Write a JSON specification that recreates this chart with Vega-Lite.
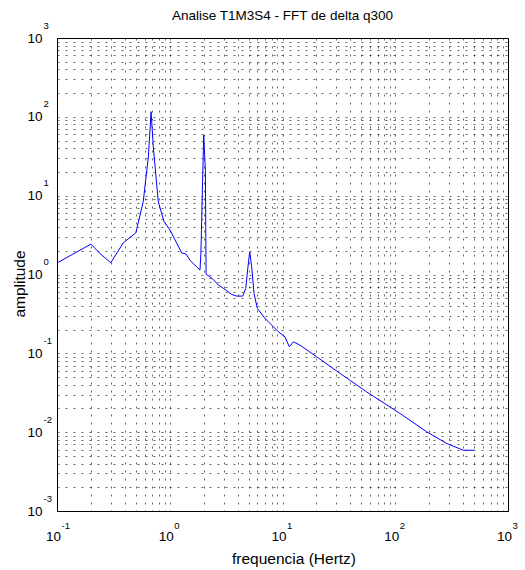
{
  "$schema": "https://vega.github.io/schema/vega-lite/v6.json",
  "width": 451,
  "height": 473,
  "autosize": {"type": "none"},
  "padding": {"left": 57, "top": 38, "right": 17, "bottom": 59},
  "background": "#ffffff",
  "title": {"text": "Analise T1M3S4 - FFT de delta q300", "font": "Liberation Sans", "fontSize": 13.5, "fontWeight": "normal", "color": "#000000", "anchor": "middle", "frame": "group", "offset": -2},
  "config": {
    "view": {"stroke": "#000000", "strokeWidth": 1},
    "axis": {"labelFont": "Liberation Sans", "titleFont": "Liberation Sans", "labelColor": "#000000", "titleColor": "#000000", "domainColor": "#000000", "tickColor": "#000000", "titleFontWeight": "normal"}
  },
  "data": {"values": [
    {"f": 0.1, "a": 1.40}, {"f": 0.2, "a": 2.43}, {"f": 0.24, "a": 1.85}, {"f": 0.30, "a": 1.41},
    {"f": 0.387, "a": 2.52}, {"f": 0.50, "a": 3.38}, {"f": 0.582, "a": 8.4}, {"f": 0.646, "a": 31},
    {"f": 0.683, "a": 116}, {"f": 0.714, "a": 42}, {"f": 0.791, "a": 8.4}, {"f": 0.889, "a": 4.7},
    {"f": 1.005, "a": 3.66}, {"f": 1.276, "a": 1.88}, {"f": 1.393, "a": 1.82}, {"f": 1.51, "a": 1.52},
    {"f": 1.73, "a": 1.25}, {"f": 1.855, "a": 1.14}, {"f": 1.89, "a": 1.87}, {"f": 2.0, "a": 58.7},
    {"f": 2.07, "a": 21}, {"f": 2.10, "a": 1.01}, {"f": 2.43, "a": 0.867}, {"f": 2.70, "a": 0.733},
    {"f": 2.99, "a": 0.667}, {"f": 3.54, "a": 0.559}, {"f": 3.92, "a": 0.532}, {"f": 4.44, "a": 0.532},
    {"f": 4.72, "a": 0.667}, {"f": 4.94, "a": 1.25}, {"f": 5.12, "a": 1.94}, {"f": 5.33, "a": 1.25},
    {"f": 5.59, "a": 0.575}, {"f": 5.98, "a": 0.372}, {"f": 7.0, "a": 0.277}, {"f": 9.18, "a": 0.188},
    {"f": 10.5, "a": 0.162}, {"f": 11.5, "a": 0.121}, {"f": 12.5, "a": 0.140}, {"f": 14.3, "a": 0.127},
    {"f": 20.1, "a": 0.0903}, {"f": 32.4, "a": 0.0556}, {"f": 55.8, "a": 0.0324}, {"f": 110, "a": 0.0173},
    {"f": 190, "a": 0.0101}, {"f": 286, "a": 0.0072}, {"f": 401, "a": 0.0059}, {"f": 500, "a": 0.0059}
  ]},
  "resolve": {"axis": {"x": "independent", "y": "independent"}},
  "layer": [
    {
      "mark": {"type": "line", "color": "#0000ff", "strokeWidth": 1, "clip": true},
      "encoding": {
        "x": {"field": "f", "type": "quantitative", "scale": {"type": "log", "domain": [0.1, 1000], "nice": false},
          "axis": {"orient": "bottom",
            "values": [0.1,0.2,0.3,0.4,0.5,0.6,0.7,0.8,0.9,1,2,3,4,5,6,7,8,9,10,20,30,40,50,60,70,80,90,100,200,300,400,500,600,700,800,900,1000],
            "grid": true, "gridColor": "#000000", "gridDash": [2, 6], "gridWidth": 0.8, "gridOpacity": 0.75,
            "tickSize": 0, "tickWidth": 1,
            "encode": {"ticks": {"update": {"y2": {"signal": "abs(log(datum.value)/LN10-round(log(datum.value)/LN10))<1e-6 ? -6 : -3"}}}},
            "labelExpr": "abs(log(datum.value)/LN10-round(log(datum.value)/LN10))<1e-6 ? '10' : ''",
            "labelFontSize": 13.5, "labelPadding": 29, "labelBaseline": "alphabetic", "labelAlign": "center", "labelOffset": -4,
            "labelFlush": false, "labelOverlap": false,
            "title": "frequencia (Hertz)", "titleFontSize": 15.5, "titleX": 236.5, "titleY": 52, "titleBaseline": "alphabetic", "titleAlign": "center"}},
        "y": {"field": "a", "type": "quantitative", "scale": {"type": "log", "domain": [0.001, 1000], "nice": false},
          "axis": {"orient": "left",
            "values": [0.001,0.002,0.003,0.004,0.005,0.006,0.007,0.008,0.009,0.01,0.02,0.03,0.04,0.05,0.06,0.07,0.08,0.09,0.1,0.2,0.3,0.4,0.5,0.6,0.7,0.8,0.9,1,2,3,4,5,6,7,8,9,10,20,30,40,50,60,70,80,90,100,200,300,400,500,600,700,800,900,1000],
            "grid": true, "gridColor": "#000000", "gridDash": [2, 6], "gridWidth": 0.8, "gridOpacity": 0.75,
            "tickSize": 0, "tickWidth": 1,
            "encode": {"ticks": {"update": {"x2": {"signal": "abs(log(datum.value)/LN10-round(log(datum.value)/LN10))<1e-6 ? 6 : 3"}}}},
            "labelExpr": "abs(log(datum.value)/LN10-round(log(datum.value)/LN10))<1e-6 ? '10' : ''",
            "labelFontSize": 13.5, "labelPadding": 15, "labelBaseline": "middle", "labelAlign": "right",
            "labelFlush": false, "labelOverlap": false,
            "title": "amplitude", "titleFontSize": 15.5, "titleX": -33, "titleY": 245.5, "titleBaseline": "alphabetic", "titleAlign": "center", "titleAngle": -90}}
      }
    },
    {
      "mark": {"type": "line", "strokeOpacity": 0},
      "encoding": {
        "x": {"field": "f", "type": "quantitative", "scale": {"type": "log", "domain": [0.1, 1000], "nice": false},
          "axis": {"orient": "top",
            "values": [0.1,0.2,0.3,0.4,0.5,0.6,0.7,0.8,0.9,1,2,3,4,5,6,7,8,9,10,20,30,40,50,60,70,80,90,100,200,300,400,500,600,700,800,900,1000],
            "grid": false, "domain": false, "labels": false, "title": null, "tickSize": 0, "tickWidth": 1,
            "encode": {"ticks": {"update": {"y2": {"signal": "abs(log(datum.value)/LN10-round(log(datum.value)/LN10))<1e-6 ? 6 : 3"}}}}}},
        "y": {"field": "a", "type": "quantitative", "scale": {"type": "log", "domain": [0.001, 1000], "nice": false},
          "axis": {"orient": "right",
            "values": [0.001,0.002,0.003,0.004,0.005,0.006,0.007,0.008,0.009,0.01,0.02,0.03,0.04,0.05,0.06,0.07,0.08,0.09,0.1,0.2,0.3,0.4,0.5,0.6,0.7,0.8,0.9,1,2,3,4,5,6,7,8,9,10,20,30,40,50,60,70,80,90,100,200,300,400,500,600,700,800,900,1000],
            "grid": false, "domain": false, "labels": false, "title": null, "tickSize": 0, "tickWidth": 1,
            "encode": {"ticks": {"update": {"x2": {"signal": "abs(log(datum.value)/LN10-round(log(datum.value)/LN10))<1e-6 ? -6 : -3"}}}}}}
      }
    },
    {
      "mark": {"type": "line", "strokeOpacity": 0},
      "encoding": {
        "x": {"field": "f", "type": "quantitative", "scale": {"type": "log", "domain": [0.1, 1000], "nice": false},
          "axis": {"orient": "bottom", "values": [0.1, 1, 10, 100, 1000],
            "grid": false, "domain": false, "ticks": false, "title": null,
            "labelExpr": "'' + round(log(datum.value)/LN10)",
            "labelFontSize": 9.5, "labelPadding": 17, "labelBaseline": "alphabetic", "labelAlign": "left", "labelOffset": 4,
            "labelFlush": false, "labelOverlap": false}},
        "y": {"field": "a", "type": "quantitative", "scale": {"type": "log", "domain": [0.001, 1000], "nice": false},
          "axis": {"orient": "left", "values": [0.001, 0.01, 0.1, 1, 10, 100, 1000],
            "grid": false, "domain": false, "ticks": false, "title": null,
            "labelExpr": "'' + round(log(datum.value)/LN10)",
            "labelFontSize": 9.5, "labelPadding": 14, "labelBaseline": "middle", "labelAlign": "left", "labelOffset": -13,
            "labelFlush": false, "labelOverlap": false}}
      }
    }
  ]
}
